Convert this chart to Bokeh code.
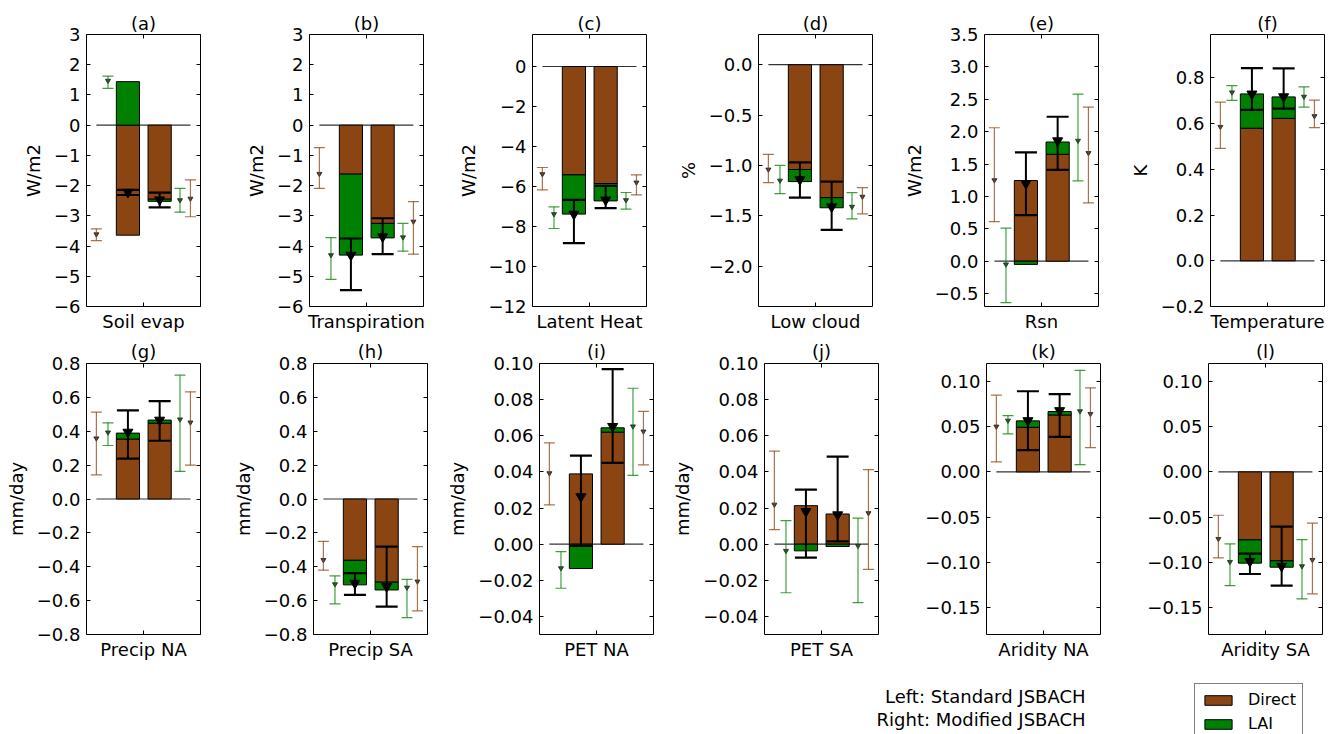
from bokeh.plotting import figure
from bokeh.models import (ColumnDataSource, Range1d, FixedTicker, LinearAxis, Whisker,
                          TeeHead, Legend, LegendItem, Label, CustomLabelingPolicy)
from bokeh.layouts import column, row
from bokeh.embed import file_html
from bokeh.resources import INLINE

# ---------------- data ----------------
panel_tags = ["(a)", "(b)", "(c)", "(d)", "(e)", "(f)", "(g)", "(h)", "(i)", "(j)", "(k)", "(l)"]
x_labels = ["Soil evap", "Transpiration", "Latent Heat", "Low cloud", "Rsn", "Temperature",
            "Precip NA", "Precip SA", "PET NA", "PET SA", "Aridity NA", "Aridity SA"]
y_labels = ["W/m2", "W/m2", "W/m2", "%", "W/m2", "K",
            "mm/day", "mm/day", "mm/day", "mm/day", "", ""]

# stacked bars: Standard (left bar) and Modified (right bar)
direct_std = [-3.64, -1.62, -5.42, -1.04, 1.245, 0.58, 0.354, -0.362, 0.0389, 0.0213, 0.0494, -0.0753]
lai_std = [1.44, -2.68, -1.96, -0.12, -0.05, 0.15, 0.035, -0.145, -0.0135, -0.0037, 0.0071, -0.0257]
direct_mod = [-2.45, -3.25, -5.85, -1.32, 1.65, 0.623, 0.448, -0.491, 0.062, 0.0167, 0.063, -0.0985]
lai_mod = [-0.07, -0.48, -0.87, -0.10, 0.19, 0.094, 0.018, -0.046, 0.0024, -0.0013, 0.0038, -0.007]

# total effect with error bars (black)
total_std_mean = [-2.22, -4.30, -7.38, -1.14, 1.20, 0.73, 0.395, -0.497, 0.0263, 0.0181, 0.0568, -0.099]
total_std_lo = [-2.31, -5.46, -8.83, -1.32, 0.71, 0.66, 0.238, -0.566, -0.001, -0.0074, 0.024, -0.113]
total_std_hi = [-2.14, -3.75, -6.67, -0.97, 1.68, 0.843, 0.523, -0.438, 0.049, 0.0302, 0.0893, -0.0904]
total_mod_mean = [-2.47, -3.69, -6.67, -1.41, 1.86, 0.718, 0.466, -0.517, 0.0652, 0.0163, 0.0679, -0.1044]
total_mod_lo = [-2.72, -4.27, -7.08, -1.64, 1.41, 0.666, 0.344, -0.635, 0.045, 0.0015, 0.0387, -0.126]
total_mod_hi = [-2.23, -3.08, -5.97, -1.16, 2.23, 0.842, 0.578, -0.281, 0.0969, 0.0485, 0.086, -0.0605]

# side error bars: Standard direct (left, brown), Standard LAI (left, green)
std_direct_mean = [-3.61, -1.61, -5.38, -1.04, 1.25, 0.586, 0.358, -0.36, 0.0393, 0.0219, 0.0502, -0.0742]
std_direct_lo = [-3.82, -2.09, -6.17, -1.17, 0.61, 0.492, 0.143, -0.42, 0.0217, 0.008, 0.011, -0.0952]
std_direct_hi = [-3.43, -0.74, -5.05, -0.89, 2.06, 0.694, 0.513, -0.25, 0.0561, 0.0515, 0.0849, -0.048]
std_lai_mean = [1.47, -4.30, -7.38, -1.15, -0.05, 0.737, 0.393, -0.503, -0.0133, -0.0037, 0.0568, -0.0996]
std_lai_lo = [1.22, -5.10, -8.10, -1.28, -0.64, 0.702, 0.316, -0.619, -0.0244, -0.0269, 0.042, -0.126]
std_lai_hi = [1.62, -3.72, -7.02, -1.00, 0.51, 0.766, 0.45, -0.454, -0.0041, 0.013, 0.0624, -0.0797]
# Modified LAI (right, green), Modified direct (right, brown)
mod_lai_mean = [-2.48, -3.71, -6.68, -1.41, 1.86, 0.718, 0.47, -0.523, 0.0652, -0.0009, 0.0672, -0.1044]
mod_lai_lo = [-2.88, -4.17, -7.13, -1.53, 1.24, 0.672, 0.163, -0.70, 0.0381, -0.0324, 0.0081, -0.1406]
mod_lai_hi = [-2.09, -3.25, -6.30, -1.27, 2.58, 0.761, 0.731, -0.474, 0.0863, 0.0144, 0.1125, -0.0749]
mod_direct_mean = [-2.43, -3.19, -5.80, -1.31, 1.67, 0.633, 0.452, -0.487, 0.0624, 0.0172, 0.0642, -0.0974]
mod_direct_lo = [-3.03, -4.27, -6.42, -1.48, 0.90, 0.583, 0.20, -0.66, 0.0439, -0.0139, 0.0269, -0.135]
mod_direct_hi = [-1.81, -2.53, -5.42, -1.22, 2.38, 0.703, 0.633, -0.281, 0.0735, 0.0413, 0.093, -0.0568]

# axes
y_lims = [(-6, 3), (-6, 3), (-12, 1.6), (-2.4, 0.3), (-0.7, 3.5), (-0.2, 0.99),
          (-0.8, 0.8), (-0.8, 0.8), (-0.05, 0.10), (-0.05, 0.10), (-0.18, 0.12), (-0.18, 0.12)]
y_ticks = [
    [-6, -5, -4, -3, -2, -1, 0, 1, 2, 3],
    [-6, -5, -4, -3, -2, -1, 0, 1, 2, 3],
    [-12, -10, -8, -6, -4, -2, 0],
    [-2.0, -1.5, -1.0, -0.5, 0.0],
    [-0.5, 0.0, 0.5, 1.0, 1.5, 2.0, 2.5, 3.0, 3.5],
    [-0.2, 0.0, 0.2, 0.4, 0.6, 0.8],
    [-0.8, -0.6, -0.4, -0.2, 0.0, 0.2, 0.4, 0.6, 0.8],
    [-0.8, -0.6, -0.4, -0.2, 0.0, 0.2, 0.4, 0.6, 0.8],
    [-0.04, -0.02, 0.0, 0.02, 0.04, 0.06, 0.08, 0.10],
    [-0.04, -0.02, 0.0, 0.02, 0.04, 0.06, 0.08, 0.10],
    [-0.15, -0.10, -0.05, 0.0, 0.05, 0.10],
    [-0.15, -0.10, -0.05, 0.0, 0.05, 0.10],
]
y_decimals = [0, 0, 0, 1, 1, 1, 1, 1, 2, 2, 2, 2]

legend_labels = ["Direct", "LAI"]
note_lines = ["Left: Standard JSBACH", "Right: Modified JSBACH"]

# ---------------- styling / positions ----------------
FONT = "DejaVu Sans"
BROWN = "#8B4513"
GREEN = "#008000"
X_RANGE = (0, 6)
X_TICK = 3.0
POS_LB, POS_LG, POS_B1, POS_B2, POS_RG, POS_RB = 0.52, 1.13, 2.18, 3.85, 4.92, 5.47
BAR_W = 1.22

FRAME_W = 114
BORDERS_TOP = [(86, 29), (80, 29), (80, 28), (80, 28), (80, 28), (80, 18)]
BORDERS_BOT = [(86, 29), (80, 17), (92, 16), (92, 28), (80, 28), (80, 18)]
ROW_W = sum(l + r for l, r in BORDERS_TOP) + 6 * FRAME_W
NO_LABELS = CustomLabelingPolicy(code="return []")


def fmt(v, d):
    s = f"{v:.{d}f}"
    if s.startswith("-"):
        if float(s) == 0:
            s = s[1:]
        else:
            s = "\u2212" + s[1:]
    return s


def tick_only_axis(ticks):
    return LinearAxis(ticker=FixedTicker(ticks=ticks), major_label_text_font_size="0px",
                      major_label_policy=NO_LABELS,
                      major_label_standoff=0, major_tick_in=4, major_tick_out=0,
                      minor_tick_line_color=None, axis_line_color=None)


def make_panel(i, top_row, bl, br):
    fh = 272 if top_row else 271
    p = figure(frame_width=FRAME_W, frame_height=fh,
               x_range=Range1d(*X_RANGE), y_range=Range1d(*y_lims[i]),
               toolbar_location=None, output_backend="svg",
               min_border_left=bl, min_border_right=br,
               min_border_top=34 if top_row else 27,
               min_border_bottom=30,
               outline_line_color="black", outline_line_width=1,
               background_fill_color="white", border_fill_color="white")
    p.grid.visible = False
    p.title.text = panel_tags[i]
    p.title.align = "center"
    p.title.text_font = FONT
    p.title.text_font_size = "18px"
    p.title.text_font_style = "normal"
    p.title.text_color = "black"
    p.title.standoff = 1 if top_row else 4

    ya = p.yaxis[0]
    ya.ticker = FixedTicker(ticks=y_ticks[i])
    ya.major_label_overrides = {t: fmt(t, y_decimals[i]) for t in y_ticks[i]}
    ya.major_label_text_font = FONT
    ya.major_label_text_font_size = "18px"
    ya.major_label_text_color = "black"
    ya.major_label_standoff = 6
    ya.major_tick_in = 4
    ya.major_tick_out = 0
    ya.minor_tick_line_color = None
    ya.axis_line_color = None
    ya.major_tick_line_color = "black"
    if y_labels[i]:
        ya.axis_label = y_labels[i]
    ya.axis_label_text_font = FONT
    ya.axis_label_text_font_size = "18px"
    ya.axis_label_text_font_style = "normal"
    ya.axis_label_text_color = "black"
    ya.axis_label_standoff = 7

    xa = p.xaxis[0]
    xa.ticker = FixedTicker(ticks=[X_TICK])
    xa.major_label_text_font_size = "0px"
    xa.major_label_policy = NO_LABELS
    xa.major_label_standoff = 0
    xa.major_tick_in = 4
    xa.major_tick_out = 0
    xa.minor_tick_line_color = None
    xa.axis_line_color = None
    xa.axis_label = x_labels[i]
    xa.axis_label_text_font = FONT
    xa.axis_label_text_font_size = "18px"
    xa.axis_label_text_font_style = "normal"
    xa.axis_label_text_color = "black"
    xa.axis_label_standoff = 4

    p.add_layout(tick_only_axis(y_ticks[i]), "right")
    p.add_layout(tick_only_axis([X_TICK]), "above")

    # zero line spanning the side error bars
    p.segment(x0=[POS_LB], x1=[POS_RB], y0=[0], y1=[0], line_color="black", line_width=1.2,
              line_alpha=0.8)

    # stacked bars
    directs = [direct_std[i], direct_mod[i]]
    lais = [lai_std[i], lai_mod[i]]
    g_bottom = [d if (d * l) > 0 else 0.0 for d, l in zip(directs, lais)]
    g_top = [b + l for b, l in zip(g_bottom, lais)]
    src = ColumnDataSource(dict(x=[POS_B1, POS_B2], d_top=directs, d_bot=[0.0, 0.0],
                                g_bot=g_bottom, g_top=g_top))
    p.vbar(x="x", width=BAR_W, bottom="d_bot", top="d_top", source=src,
           fill_color=BROWN, line_color="black", line_width=1)
    p.vbar(x="x", width=BAR_W, bottom="g_bot", top="g_top", source=src,
           fill_color=GREEN, line_color="black", line_width=1)

    # side error bars (thin)
    side = [
        (POS_LB, std_direct_mean, std_direct_lo, std_direct_hi, BROWN),
        (POS_LG, std_lai_mean, std_lai_lo, std_lai_hi, GREEN),
        (POS_RG, mod_lai_mean, mod_lai_lo, mod_lai_hi, GREEN),
        (POS_RB, mod_direct_mean, mod_direct_lo, mod_direct_hi, BROWN),
    ]
    for xpos, mean, lo, hi, col in side:
        s = ColumnDataSource(dict(x=[xpos], m=[mean[i]], lo=[lo[i]], hi=[hi[i]]))
        w = Whisker(source=s, base="x", lower="lo", upper="hi", line_color=col,
                    line_width=1.2, line_alpha=0.75, level="annotation",
                    upper_head=TeeHead(size=11, line_color=col, line_width=1.2, line_alpha=0.75),
                    lower_head=TeeHead(size=11, line_color=col, line_width=1.2, line_alpha=0.75))
        p.add_layout(w)
        p.scatter(x="x", y="m", source=s, marker="inverted_triangle", size=5,
                  fill_color="#222222", line_color="#222222", alpha=0.85)

    # black error bars for totals
    s2 = ColumnDataSource(dict(x=[POS_B1, POS_B2], m=[total_std_mean[i], total_mod_mean[i]],
                               lo=[total_std_lo[i], total_mod_lo[i]],
                               hi=[total_std_hi[i], total_mod_hi[i]]))
    w2 = Whisker(source=s2, base="x", lower="lo", upper="hi", line_color="black",
                 line_width=2, level="annotation",
                 upper_head=TeeHead(size=22, line_color="black", line_width=2.2),
                 lower_head=TeeHead(size=22, line_color="black", line_width=2.2))
    p.add_layout(w2)
    p.scatter(x="x", y="m", source=s2, marker="inverted_triangle", size=10,
              fill_color="black", line_color="black", level="annotation")
    return p


top_figs = [make_panel(k, True, *BORDERS_TOP[k]) for k in range(6)]
bot_figs = [make_panel(6 + k, False, *BORDERS_BOT[k]) for k in range(6)]

# ---------------- footer: notes + legend ----------------
FOOT_H = 70
foot = figure(frame_width=ROW_W, frame_height=FOOT_H, x_range=Range1d(0, 1), y_range=Range1d(0, 1),
              toolbar_location=None, output_backend="svg", x_axis_location=None,
              y_axis_location=None, min_border=0, outline_line_color=None)
foot.grid.visible = False
# legend proxies carry the (l) panel's bar data but are not drawn themselves
proxy_d = foot.vbar(x=[POS_B1, POS_B2], top=[direct_std[11], direct_mod[11]], width=BAR_W,
                    fill_color=BROWN, line_color="black", line_width=1, visible=False)
proxy_l = foot.vbar(x=[POS_B1, POS_B2], top=[lai_std[11], lai_mod[11]], width=BAR_W,
                    fill_color=GREEN, line_color="black", line_width=1, visible=False)
legend = Legend(items=[LegendItem(label=legend_labels[0], renderers=[proxy_d]),
                       LegendItem(label=legend_labels[1], renderers=[proxy_l])],
                location=(1194, -6), orientation="vertical",
                label_text_font=FONT, label_text_font_size="16px", label_text_color="black",
                glyph_width=34, glyph_height=12, label_height=12, label_standoff=13,
                spacing=5, padding=6, margin=0, inactive_fill_alpha=0.0,
                border_line_color="black", border_line_width=1,
                background_fill_color="white", background_fill_alpha=1.0)
foot.add_layout(legend)
for txt, vy in zip(note_lines, [38, 15]):
    foot.add_layout(Label(x=1085, y=vy, x_units="screen", y_units="screen", text=txt,
                          text_align="right", text_baseline="middle",
                          text_font=FONT, text_font_size="18px", text_color="black"))

layout = column(row(*top_figs), row(*bot_figs), foot)
open("out.html", "w").write(file_html(layout, INLINE))
